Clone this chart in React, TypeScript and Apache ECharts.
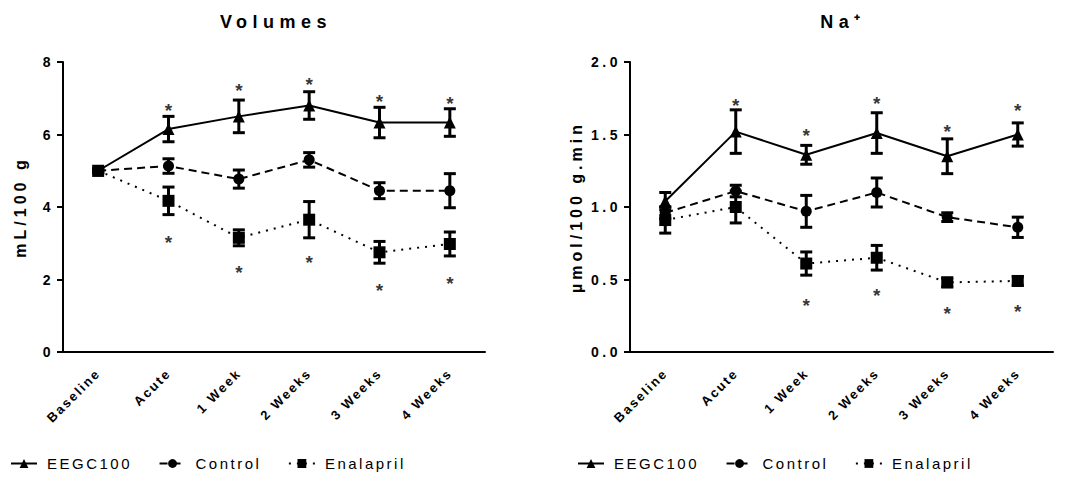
import React, { useEffect, useRef } from "react";
import * as echarts from "echarts";

const categories = ["Baseline", "Acute", "1 Week", "2 Weeks", "3 Weeks", "4 Weeks"];
const seriesNames = ["EEGC100", "Control", "Enalapril"];

// Volumes (mL/100 g)
const eegcVol = [5.0, 6.15, 6.5, 6.8, 6.33, 6.33];
const eegcVolErr = [0.05, 0.35, 0.45, 0.38, 0.42, 0.38];
const ctrlVol = [5.0, 5.13, 4.77, 5.3, 4.45, 4.45];
const ctrlVolErr = [0.05, 0.2, 0.25, 0.2, 0.22, 0.47];
const enalVol = [5.0, 4.17, 3.15, 3.65, 2.75, 2.98];
const enalVolErr = [0.05, 0.38, 0.22, 0.5, 0.3, 0.33];
const volSigTop = [null, 6.77, 7.32, 7.5, 7.03, 6.97];
const volSigBottom = [null, 3.14, 2.31, 2.58, 1.82, 2.0];

// Na+ (µmol/100 g.min)
const eegcNa = [1.04, 1.52, 1.36, 1.51, 1.35, 1.5];
const eegcNaErr = [0.06, 0.15, 0.065, 0.14, 0.12, 0.08];
const ctrlNa = [0.96, 1.11, 0.97, 1.1, 0.93, 0.86];
const ctrlNaErr = [0.04, 0.04, 0.11, 0.1, 0.03, 0.07];
const enalNa = [0.91, 1.0, 0.61, 0.65, 0.48, 0.49];
const enalNaErr = [0.09, 0.11, 0.08, 0.085, 0.03, 0.03];
const naSigTop = [null, 1.73, 1.52, 1.74, 1.55, 1.69];
const naSigBottom = [null, null, 0.35, 0.42, 0.29, 0.31];

const FONT = "Liberation Sans";

// font sizes double as hooks for per-text letter spacing (see CSS below)
const TITLE_SIZE = 18;
const NAME_SIZE = 16;
const TICK_SIZE = 14;
const LEGEND_SIZE = 15;
const XLAB_SIZE = 13;
const STAR_SIZE = 19;

function errData(vals: number[], errs: number[]) {
  return vals.map((v, i) => [i, v - errs[i], v + errs[i]]);
}

function errorSeries(name: string, vals: number[], errs: number[], ai: number) {
  return {
    type: "custom",
    name: name + " err",
    xAxisIndex: ai,
    yAxisIndex: ai,
    z: 3,
    encode: { x: 0, y: [1, 2] },
    data: errData(vals, errs),
    renderItem: (params: any, api: any) => {
      const x = api.value(0);
      const lo = api.coord([x, api.value(1)]);
      const hi = api.coord([x, api.value(2)]);
      const hw = 6;
      const st = { stroke: "#000", lineWidth: 3 };
      return {
        type: "group",
        children: [
          { type: "line", shape: { x1: lo[0], y1: lo[1], x2: hi[0], y2: hi[1] }, style: st },
          { type: "line", shape: { x1: hi[0] - hw, y1: hi[1], x2: hi[0] + hw, y2: hi[1] }, style: st },
          { type: "line", shape: { x1: lo[0] - hw, y1: lo[1], x2: lo[0] + hw, y2: lo[1] }, style: st },
        ],
      };
    },
  };
}

function lineSeries(name: string, vals: number[], ai: number, symbol: string, size: number, type: any, z: number) {
  return {
    type: "line",
    name,
    xAxisIndex: ai,
    yAxisIndex: ai,
    data: vals,
    symbol,
    symbolSize: size,
    showSymbol: true,
    z,
    itemStyle: { color: "#000" },
    lineStyle: { color: "#000", width: 2, type },
  };
}

function sigSeries(vals: (number | null)[], ai: number) {
  return {
    type: "scatter",
    name: "sig",
    xAxisIndex: ai,
    yAxisIndex: ai,
    symbol: "circle",
    symbolSize: 0,
    itemStyle: { color: "#000" },
    data: vals.map((v, i) => (v == null ? null : [i, v])),
    label: {
      show: true,
      position: "inside",
      formatter: "*",
      color: "#000",
      fontWeight: "bold",
      textBorderWidth: 0,
      fontSize: STAR_SIZE,
      fontFamily: FONT,
      offset: [0, 4],
    },
  };
}

function makeAxes(ai: number, left: number, width: number, max: number, interval: number, name: string, nameGap: number, decimals: boolean) {
  const grid = { left, top: 62, width, height: 290, containLabel: false };
  const xAxis = {
    type: "category",
    gridIndex: ai,
    data: categories,
    boundaryGap: true,
    axisLine: { lineStyle: { color: "#000", width: 2 } },
    axisTick: { alignWithLabel: true, length: 7, lineStyle: { color: "#000", width: 2 } },
    axisLabel: {
      rotate: 45,
      color: "#000",
      fontWeight: "bold",
      fontFamily: FONT,
      fontSize: XLAB_SIZE,
      margin: 19,
      interval: 0,
    },
  };
  const yAxis = {
    type: "value",
    gridIndex: ai,
    min: 0,
    max,
    interval,
    name,
    nameLocation: "middle",
    nameGap,
    nameTextStyle: { color: "#000", fontWeight: "bold", fontFamily: FONT, fontSize: NAME_SIZE },
    splitLine: { show: false },
    axisLine: { show: true, lineStyle: { color: "#000", width: 2 } },
    axisTick: { show: true, length: 6, lineStyle: { color: "#000", width: 2 } },
    axisLabel: {
      color: "#000",
      fontWeight: "bold",
      fontFamily: FONT,
      fontSize: TICK_SIZE,
      margin: 9,
      formatter: (v: number) => (decimals ? v.toFixed(1) : String(v)),
    },
  };
  return { grid, xAxis, yAxis };
}

const css = `
#chart-root text { letter-spacing: 3px; }
#chart-root text[style*="${TITLE_SIZE}px"] { letter-spacing: 5.5px; }
#chart-root text[style*="${NAME_SIZE}px"] { letter-spacing: 4px; }
#chart-root text[style*="${TICK_SIZE}px"] { letter-spacing: 3.5px; }
#chart-root text[style*="${LEGEND_SIZE}px"] { letter-spacing: 2.5px; }
#chart-root text[style*="${XLAB_SIZE}px"] { letter-spacing: 2px; }
#chart-root text[style*="${STAR_SIZE}px"] { letter-spacing: 0px; }
`;

export default function App() {
  const ref = useRef<HTMLDivElement>(null);
  useEffect(() => {
    if (!ref.current) return;
    const chart = echarts.init(ref.current, undefined, { renderer: "svg" });
    const a = makeAxes(0, 63, 422, 8, 2, "mL/100 g", 35, false);
    const b = makeAxes(1, 630, 423, 2, 0.5, "µmol/100 g.min", 46, true);
    const legendCommon = {
      data: seriesNames,
      orient: "horizontal",
      top: 456,
      itemWidth: 26,
      itemHeight: 11,
      itemGap: 44,
      padding: 0,
      textStyle: { color: "#000", fontFamily: FONT, fontSize: LEGEND_SIZE, padding: [0, 0, 0, 5] },
    };
    chart.setOption({
      animation: false,
      backgroundColor: "#fff",
      title: [
        {
          text: "Volumes",
          left: 271,
          top: 8,
          textAlign: "center",
          textStyle: { fontFamily: FONT, fontWeight: "bold", fontSize: TITLE_SIZE, color: "#000" },
        },
        {
          text: "Na⁺",
          left: 838,
          top: 8,
          textAlign: "center",
          textStyle: { fontFamily: FONT, fontWeight: "bold", fontSize: TITLE_SIZE, color: "#000" },
        },
      ],
      legend: [
        { ...legendCommon, left: 10 },
        { ...legendCommon, left: 577 },
      ],
      grid: [a.grid, b.grid],
      xAxis: [a.xAxis, b.xAxis],
      yAxis: [a.yAxis, b.yAxis],
      series: [
        errorSeries("EEGC100", eegcVol, eegcVolErr, 0),
        errorSeries("Control", ctrlVol, ctrlVolErr, 0),
        errorSeries("Enalapril", enalVol, enalVolErr, 0),
        lineSeries("EEGC100", eegcVol, 0, "triangle", 12, "solid", 4),
        lineSeries("Control", ctrlVol, 0, "circle", 11, [8, 5], 5),
        lineSeries("Enalapril", enalVol, 0, "rect", 12, [2, 6], 6),
        sigSeries(volSigTop, 0),
        sigSeries(volSigBottom, 0),
        errorSeries("EEGC100", eegcNa, eegcNaErr, 1),
        errorSeries("Control", ctrlNa, ctrlNaErr, 1),
        errorSeries("Enalapril", enalNa, enalNaErr, 1),
        lineSeries("EEGC100", eegcNa, 1, "triangle", 12, "solid", 4),
        lineSeries("Control", ctrlNa, 1, "circle", 11, [8, 5], 5),
        lineSeries("Enalapril", enalNa, 1, "rect", 12, [2, 6], 6),
        sigSeries(naSigTop, 1),
        sigSeries(naSigBottom, 1),
      ],
    });
    return () => chart.dispose();
  }, []);
  return (
    <>
      <style>{css}</style>
      <div
        id="chart-root"
        ref={ref}
        style={{ position: "fixed", left: 0, top: 0, width: 1073, height: 481, background: "#fff" }}
      />
    </>
  );
}
